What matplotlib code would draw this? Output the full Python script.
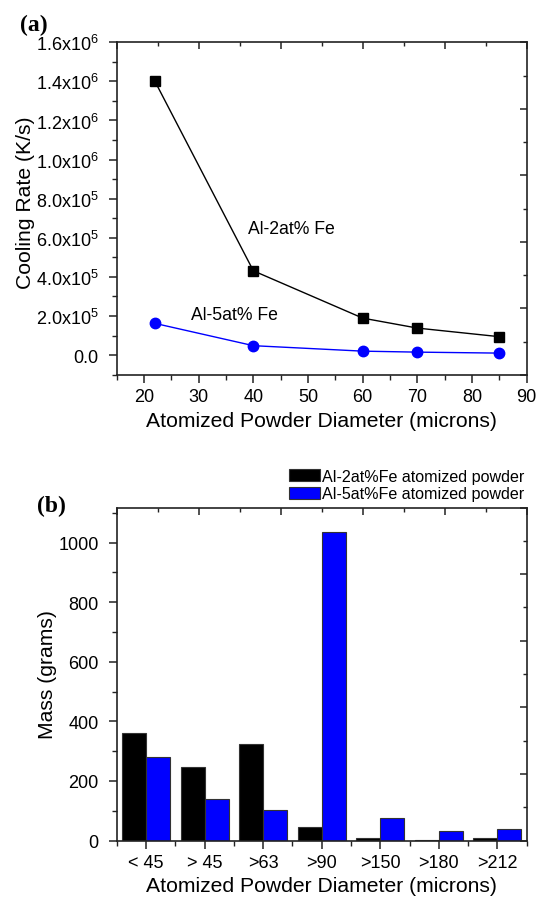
import matplotlib
matplotlib.use("Agg")
import matplotlib.pyplot as plt
import numpy as np
from matplotlib.ticker import MultipleLocator, FixedLocator

plt.rcParams['font.family'] = ['Liberation Sans', 'DejaVu Sans']
plt.rcParams['mathtext.fontset'] = 'custom'
plt.rcParams['mathtext.rm'] = 'Liberation Sans'
plt.rcParams['mathtext.it'] = 'Liberation Sans'

# ---------------- data ----------------
diameter = [22, 40, 60, 70, 85]
rate_2fe = [1.40e6, 4.31e5, 1.89e5, 1.38e5, 9.4e4]
rate_5fe = [1.62e5, 4.8e4, 2.0e4, 1.5e4, 1.0e4]

size_classes = ['< 45', '> 45', '>63', '>90', '>150', '>180', '>212']
mass_2fe = [362, 246, 323, 45, 7, 3, 8]
mass_5fe = [282, 140, 101, 1037, 74, 31, 38]

series_names = ['Al-2at%Fe atomized powder', 'Al-5at%Fe atomized powder']
ytick_vals_a = [0, 2e5, 4e5, 6e5, 8e5, 1.0e6, 1.2e6, 1.4e6, 1.6e6]
ytick_labels_a = ['0.0', r'2.0x10$^{5}$', r'4.0x10$^{5}$', r'6.0x10$^{5}$', r'8.0x10$^{5}$',
                  r'1.0x10$^{6}$', r'1.2x10$^{6}$', r'1.4x10$^{6}$', r'1.6x10$^{6}$']

W, H = 538, 904
fig = plt.figure(figsize=(W / 100, H / 100), dpi=100)

TICK_FS = 13
LABEL_FS = 15.2


def style_main(ax):
    for sp in ax.spines.values():
        sp.set_linewidth(1.2)
        sp.set_color('#222222')
    ax.tick_params(which='major', direction='out', length=6, width=1.1, labelsize=TICK_FS,
                   top=False, right=False, color='#222222')
    ax.tick_params(which='minor', direction='out', length=3.5, width=1.0,
                   top=False, right=False, color='#222222')
    ax.tick_params(axis='y', which='major', pad=7)


def add_mirror(ax):
    at = ax.twiny()
    at.set_xlim(0, 10)
    at.xaxis.set_major_locator(FixedLocator([0, 2, 4, 6, 8, 10]))
    at.xaxis.set_minor_locator(FixedLocator([1, 3, 5, 7, 9]))
    at.tick_params(axis='x', which='major', direction='in', length=5, width=1.1,
                   top=True, bottom=False, labeltop=False, labelbottom=False, color='#222222')
    at.tick_params(axis='x', which='minor', direction='in', length=3, width=1.0,
                   top=True, bottom=False, color='#222222')
    ar = ax.twinx()
    ar.set_ylim(0, 10)
    ar.yaxis.set_major_locator(FixedLocator([0, 2, 4, 6, 8, 10]))
    ar.yaxis.set_minor_locator(FixedLocator([1, 3, 5, 7, 9]))
    ar.tick_params(axis='y', which='major', direction='in', length=5, width=1.1,
                   right=True, left=False, labelright=False, labelleft=False, color='#222222')
    ar.tick_params(axis='y', which='minor', direction='in', length=3, width=1.0,
                   right=True, left=False, color='#222222')
    for a in (at, ar):
        for sp in a.spines.values():
            sp.set_visible(False)


# ---------------- panel (a) ----------------
ax1 = fig.add_axes([116.7 / W, (H - 376) / H, 410 / W, 332.7 / H])
ax1.plot(diameter, rate_2fe, '-s', color='black', lw=1.0, ms=6.5, mfc='black', mec='black')
ax1.plot(diameter, rate_5fe, '-o', color='#0000ff', lw=1.0, ms=7.5, mfc='#0000ff', mec='#0000ff')
ax1.set_xlim(15, 90)
ax1.set_ylim(-1.02e5, 1.6e6)
ax1.xaxis.set_major_locator(MultipleLocator(10))
ax1.xaxis.set_minor_locator(MultipleLocator(5))
ax1.set_yticks(ytick_vals_a)
ax1.set_yticklabels(ytick_labels_a)
ax1.yaxis.set_minor_locator(MultipleLocator(1e5))
style_main(ax1)
ax1.set_xlabel('Atomized Powder Diameter (microns)', fontsize=LABEL_FS)
ax1.set_ylabel('Cooling Rate (K/s)', fontsize=LABEL_FS)
ax1.yaxis.set_label_coords(-0.20, 0.52)
ax1.text(39.1, 6.47e5, 'Al-2at% Fe', fontsize=12.7, ha='left', va='center')
ax1.text(28.5, 2.09e5, 'Al-5at% Fe', fontsize=12.7, ha='left', va='center')
add_mirror(ax1)
fig.text(20 / W, 1 - 25 / H, '(a)', family='Liberation Serif', fontweight='bold',
         fontsize=17, ha='left', va='center')

# ---------------- panel (b) ----------------
ax2 = fig.add_axes([116.7 / W, (H - 841.5) / H, 410 / W, 333 / H])
x = np.arange(len(size_classes))
bw = 0.41
b1 = ax2.bar(x - bw / 2, mass_2fe, width=bw, color='black', edgecolor='#333333', lw=0.8,
             label=series_names[0])
b2 = ax2.bar(x + bw / 2, mass_5fe, width=bw, color='#0000ff', edgecolor='#333333', lw=0.8,
             label=series_names[1])
ax2.set_xlim(-0.5, len(size_classes) - 0.5)
ax2.set_ylim(0, 1118)
ax2.set_xticks(x)
ax2.set_xticklabels(size_classes)
ax2.xaxis.set_minor_locator(FixedLocator(np.arange(-0.5, len(size_classes), 1.0)))
ax2.yaxis.set_major_locator(MultipleLocator(200))
ax2.yaxis.set_minor_locator(MultipleLocator(100))
style_main(ax2)
ax2.set_xlabel('Atomized Powder Diameter (microns)', fontsize=LABEL_FS)
ax2.set_ylabel('Mass (grams)', fontsize=LABEL_FS)
ax2.yaxis.set_label_coords(-0.146, 0.5)
add_mirror(ax2)
fig.text(37 / W, 1 - 506 / H, '(b)', family='Liberation Serif', fontweight='bold',
         fontsize=17, ha='left', va='center')

fig.legend(handles=[b1, b2], labels=series_names, loc='upper right',
           bbox_to_anchor=(524 / W, 1 - 470 / H), frameon=False, fontsize=11.6,
           handlelength=1.9, handleheight=0.75, handletextpad=0.1, labelspacing=0.15,
           borderpad=0, borderaxespad=0)

fig.savefig('out.png', dpi=100)
